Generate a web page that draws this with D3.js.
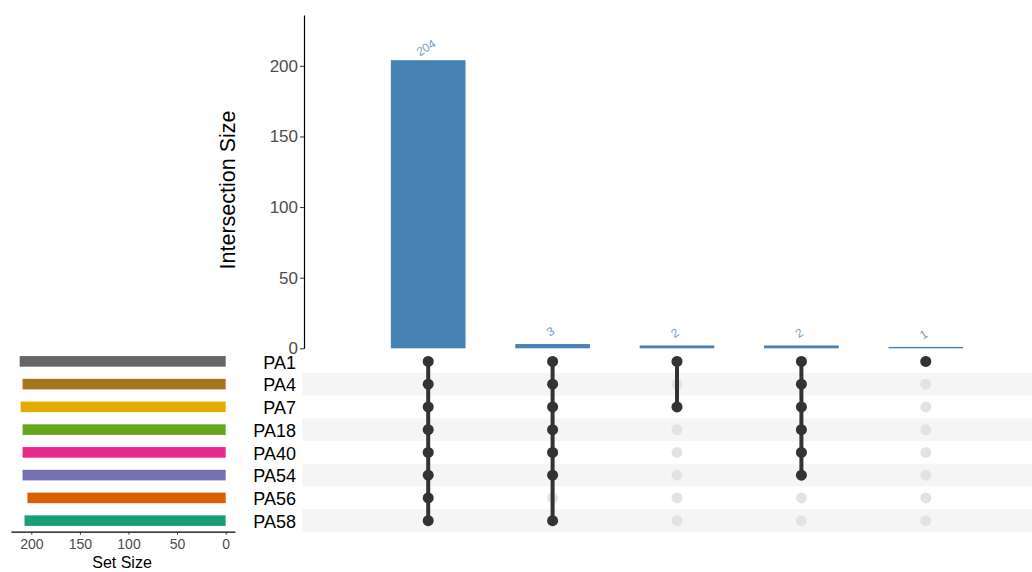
<!DOCTYPE html>
<html>
<head>
<meta charset="utf-8">
<script src="https://cdn.jsdelivr.net/npm/d3@7"></script>
<style>
  body { margin: 0; background: #fff; }
  svg { font-family: "Liberation Sans", Arial, sans-serif; }
</style>
</head>
<body>
<svg id="drawing_region"></svg>
<script>
// sets listed top to bottom in the matrix
var setNames = ['PA1', 'PA4', 'PA7', 'PA18', 'PA40', 'PA54', 'PA56', 'PA58'];
var setSizes = [212, 209, 211, 209, 209, 209, 204, 207];
var setColors = ['#666666', '#a6761d', '#e6ab02', '#66a61e', '#e7298a', '#7570b3', '#d95f02', '#1b9e77'];

// intersections, left to right
var interSizes = [204, 3, 2, 2, 1];
var interMembers = [
    ['PA1', 'PA4', 'PA7', 'PA18', 'PA40', 'PA54', 'PA56', 'PA58'],
    ['PA1', 'PA4', 'PA7', 'PA18', 'PA40', 'PA54', 'PA58'],
    ['PA1', 'PA7'],
    ['PA1', 'PA4', 'PA7', 'PA18', 'PA40', 'PA54'],
    ['PA1']
];
var yTicks = [0, 50, 100, 150, 200];
var setTicks = [0, 50, 100, 150, 200];

var width = 1032, height = 572;
var svg = d3.select('#drawing_region')
    .attr('width', width)
    .attr('height', height);

var cols = d3.range(interSizes.length);

var xScale = d3.scaleBand()
    .domain(cols)
    .range([366, 988])
    .paddingInner(0.4)
    .paddingOuter(0.2);

var yScale = d3.scaleLinear()
    .domain([0, 236])
    .range([348.3, 15]);

var rowScale = d3.scaleBand()
    .domain(setNames)
    .range([350, 532]);

var setX = d3.scaleLinear()
    .domain([-9.5, 221])
    .range([234.9, 10.9]);

// --- matrix stripes
svg.selectAll('rect.stripe')
    .data(setNames.filter((d, i) => i % 2 === 1))
    .enter()
    .append('rect')
    .attr('class', 'stripe')
    .attr('x', 302)
    .attr('y', d => rowScale(d))
    .attr('width', width - 302)
    .attr('height', rowScale.bandwidth())
    .attr('fill', '#f5f5f5');

// --- intersection bars
svg.selectAll('rect.bar')
    .data(interSizes)
    .enter()
    .append('rect')
    .attr('class', 'bar')
    .attr('x', (d, i) => xScale(i))
    .attr('y', d => yScale(d))
    .attr('width', xScale.bandwidth())
    .attr('height', d => yScale(0) - yScale(d))
    .attr('fill', '#4682b4');

svg.selectAll('text.barlabel')
    .data(interSizes)
    .enter()
    .append('text')
    .attr('class', 'barlabel')
    .attr('transform', (d, i) => 'translate(' + (xScale(i) + xScale.bandwidth() / 2) + ',' + (yScale(d) - 9) + ') rotate(-32)')
    .attr('text-anchor', 'middle')
    .style('font-size', '12px')
    .attr('fill', '#7b9dc2')
    .text(d => d);

// y axis
var yAxis = svg.append('g')
    .attr('transform', 'translate(304,0)')
    .call(d3.axisLeft(yScale).tickValues(yTicks).tickSize(4).tickSizeOuter(0));
yAxis.select('.domain').attr('stroke', '#000').attr('stroke-width', 1.2);
yAxis.selectAll('.tick line').attr('stroke', '#333');
yAxis.selectAll('.tick text')
    .attr('fill', '#4d4d4d')
    .style('font-size', '17px')
    .attr('x', -6);

svg.append('text')
    .attr('transform', 'translate(235,190) rotate(-90)')
    .attr('text-anchor', 'middle')
    .style('font-size', '21.5px')
    .attr('fill', '#000')
    .text('Intersection Size');

// --- matrix dots
cols.forEach(function(c) {
    var cx = xScale(c) + xScale.bandwidth() / 2;
    var members = interMembers[c];
    svg.selectAll(null)
        .data(setNames)
        .enter()
        .append('circle')
        .attr('cx', cx)
        .attr('cy', d => rowScale(d) + rowScale.bandwidth() / 2)
        .attr('r', 5.5)
        .attr('fill', '#e3e3e3');
    var ys = members.map(m => rowScale(m) + rowScale.bandwidth() / 2);
    if (ys.length > 1) {
        svg.append('line')
            .attr('x1', cx).attr('x2', cx)
            .attr('y1', d3.min(ys)).attr('y2', d3.max(ys))
            .attr('stroke', '#333')
            .attr('stroke-width', 4);
    }
    svg.selectAll(null)
        .data(members)
        .enter()
        .append('circle')
        .attr('cx', cx)
        .attr('cy', d => rowScale(d) + rowScale.bandwidth() / 2)
        .attr('r', 5.5)
        .attr('fill', '#333');
});

// set labels
svg.selectAll('text.setname')
    .data(setNames)
    .enter()
    .append('text')
    .attr('class', 'setname')
    .attr('x', 296)
    .attr('y', d => rowScale(d) + rowScale.bandwidth() / 2)
    .attr('dy', '0.4em')
    .attr('text-anchor', 'end')
    .style('font-size', '18px')
    .attr('fill', '#000')
    .text(d => d);

// --- set size bars
svg.selectAll('rect.setbar')
    .data(setSizes)
    .enter()
    .append('rect')
    .attr('class', 'setbar')
    .attr('x', d => setX(d))
    .attr('y', (d, i) => rowScale(setNames[i]) + rowScale.bandwidth() / 2 - 5.3)
    .attr('width', d => setX(0) - setX(d))
    .attr('height', 10.6)
    .attr('fill', (d, i) => setColors[i]);

var sAxis = svg.append('g')
    .attr('transform', 'translate(0,531.7)')
    .call(d3.axisBottom(setX).tickValues(setTicks).tickSize(3).tickSizeOuter(0));
sAxis.select('.domain').attr('stroke', '#000').attr('stroke-width', 1.2);
sAxis.selectAll('.tick line').attr('stroke', '#333');
sAxis.selectAll('.tick text')
    .attr('fill', '#4d4d4d')
    .style('font-size', '14px')
    .attr('y', 7);

svg.append('text')
    .attr('x', 122)
    .attr('y', 568)
    .attr('text-anchor', 'middle')
    .style('font-size', '16px')
    .attr('fill', '#000')
    .text('Set Size');
</script>
</body>
</html>
